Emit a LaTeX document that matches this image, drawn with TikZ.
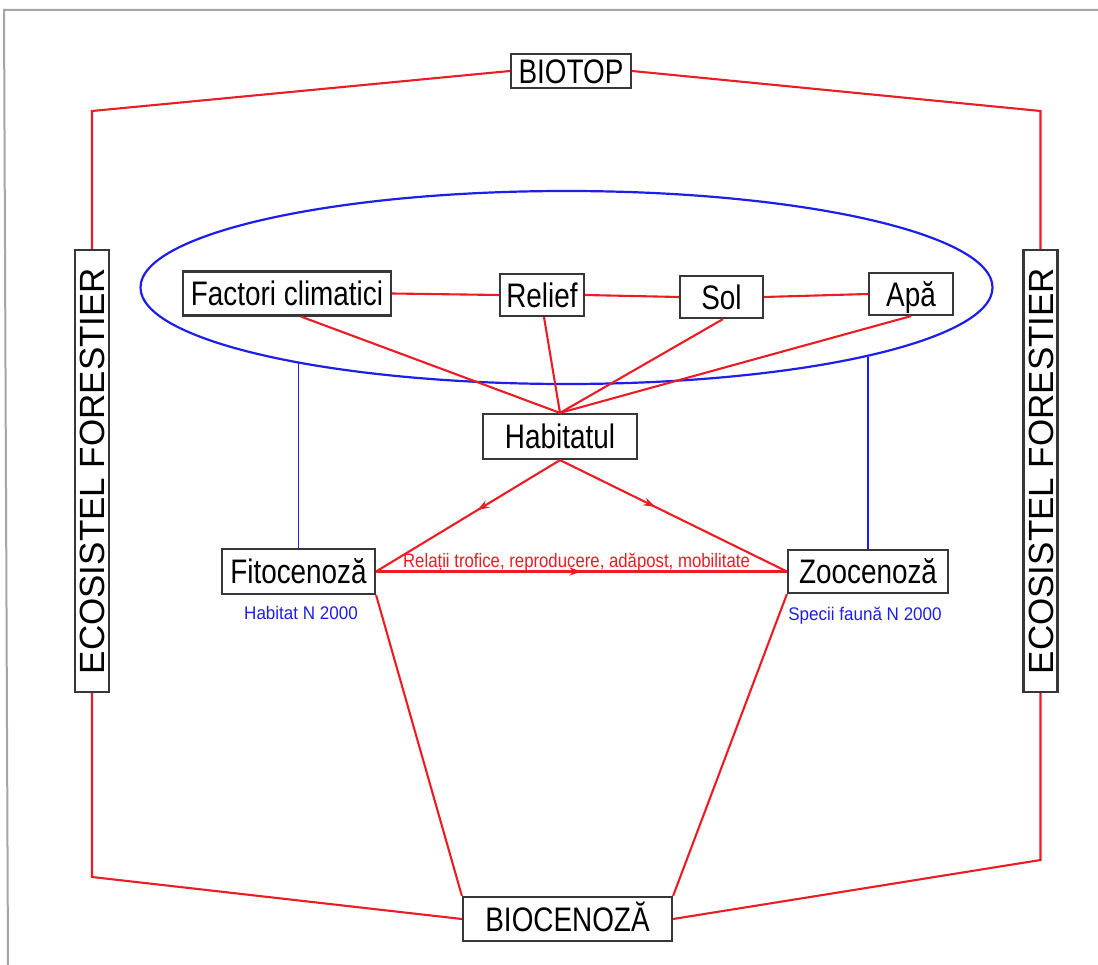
\documentclass[tikz,border=0pt]{standalone}
\usepackage{fontspec}
\setmainfont{Liberation Sans}
\newfontfamily\narf[FakeStretch=0.82]{Liberation Sans}
\newfontfamily\labf[FakeStretch=0.93]{Liberation Sans}
\newfontfamily\relf[FakeStretch=0.86]{Liberation Sans}
\usetikzlibrary{shapes.geometric,arrows.meta,decorations.markings}
\definecolor{lred}{RGB}{236,28,36}
\definecolor{lblue}{RGB}{30,30,235}
\definecolor{boxc}{RGB}{55,55,55}
\definecolor{framec}{RGB}{165,165,165}
\begin{document}
\begin{tikzpicture}[x=1pt,y=-1pt,
  box/.style={draw=boxc, line width=2.2pt, fill=white, inner sep=0pt, text depth=0pt, text height=24.3pt, font=\narf\fontsize{34}{34}\selectfont},
  ecobox/.style={draw=boxc, line width=2.2pt, fill=white, inner sep=0pt, text depth=0pt, text height=25pt, rotate=90, minimum width=442pt, minimum height=34pt, font=\fontsize{35}{35}\selectfont},
  rl/.style={draw=lred, line width=2.1pt},
  bl/.style={draw=lblue, line width=1.6pt},
  lab/.style={anchor=base, inner sep=0pt, font=\labf\fontsize{18.3}{18.3}\selectfont},
  midarrow/.style={postaction={decorate}, decoration={markings, mark=at position #1 with {\arrow[lred]{Stealth[length=12pt,width=8pt]}}}}]
\useasboundingbox (0,0) rectangle (1098,965);
\fill[white] (0,0) rectangle (1098,965);
\draw[framec, line width=2pt] (8,966) -- (4,10) -- (1099,10);

% ellipse
\node[ellipse, draw=lblue, line width=2.2pt, minimum width=852pt, minimum height=193pt, inner sep=0pt] (ell) at (566.5,287.5) {};

% boxes
\node[box, minimum width=120pt, minimum height=34pt] (biotop) at (571,71) {BIOTOP};
\node[ecobox] (ecoL) at (92,471) {ECOSISTEL FORESTIER};
\node[ecobox] (ecoR) at (1040.5,471) {ECOSISTEL FORESTIER};
\node[box, minimum width=208pt, minimum height=44pt] (factori) at (287,293.5) {Factori climatici};
\node[box, minimum width=84pt, minimum height=42pt] (relief) at (542,295) {Relief};
\node[box, minimum width=83pt, minimum height=42pt] (sol) at (721.5,297) {Sol};
\node[box, minimum width=84pt, minimum height=42pt] (apa) at (911,294) {Apă};
\node[box, minimum width=154pt, minimum height=45pt] (habitat) at (560,436.5) {Habitatul};
\node[box, minimum width=153pt, minimum height=45pt] (fito) at (298.5,571.5) {Fitocenoză};
\node[box, minimum width=160pt, minimum height=43pt] (zoo) at (868,571.5) {Zoocenoză};
\node[box, minimum width=209pt, minimum height=44pt] (bioc) at (567.5,919) {BIOCENOZĂ};

% corner coordinates
\coordinate (tl) at (92,111);
\coordinate (tr) at (1040.5,111);
\coordinate (bl) at (92,877);
\coordinate (br) at (1040.5,860);

% outer loop
\draw[rl] (biotop.west) -- (tl) -- (ecoL.east);
\draw[rl] (biotop.east) -- (tr) -- (ecoR.east);
\draw[rl] (ecoL.west) -- (bl) -- (bioc.west);
\draw[rl] (ecoR.west) -- (br) -- (bioc.east);

% top row
\draw[rl] (factori.east) -- (relief.west);
\draw[rl] (relief.east) -- (sol.west);
\draw[rl] (sol.east) -- (apa.west);

% to habitat
\draw[rl] ([xshift=14pt]factori.south) -- (habitat.north);
\draw[rl] ([xshift=2pt]relief.south) -- (habitat.north);
\draw[rl] ([xshift=1.5pt]sol.south) -- (habitat.north);
\draw[rl] (apa.south) -- (habitat.north);

% habitat to cenoses
\draw[rl, midarrow=0.45] (habitat.south) -- (fito.east);
\draw[rl, midarrow=0.42] (habitat.south) -- (zoo.west);
\draw[rl, midarrow=0.5] (fito.east) -- (zoo.west);

% cenoses to biocenoza
\draw[rl] (fito.south east) -- (bioc.north west);
\draw[rl] (zoo.south west) -- (bioc.north east);

% blue links
\draw[bl] (fito.north) -- (fito.north |- ell.195.5);
\draw[bl] (zoo.north) -- (zoo.north |- ell.347.2);

% labels
\node[anchor=base, inner sep=0pt, text=lred, font=\relf\fontsize{19.5}{19.5}\selectfont] (rel) at (576.5,567) {Relații trofice, reproducere, adăpost, mobilitate};
\node[lab, text=lblue] (hab) at (301,619) {Habitat N 2000};
\node[lab, text=lblue] (spec) at (865,620) {Specii faună N 2000};
\end{tikzpicture}
\end{document}
